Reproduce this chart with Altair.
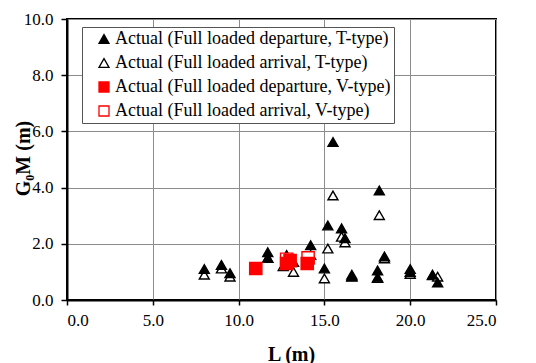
import altair as alt
import pandas as pd

series_names = [
    "Actual (Full loaded departure, T-type)",
    "Actual (Full loaded arrival, T-type)",
    "Actual (Full loaded departure, V-type)",
    "Actual (Full loaded arrival, V-type)",
]

dep_T_x = [8.0, 9.0, 9.5, 11.7, 11.7, 12.8, 13.2, 14.2, 15.0, 15.2, 15.5, 16.0, 16.2, 16.6, 16.6, 18.1, 18.1, 18.2, 18.5, 20.0, 20.0, 21.3, 21.6]
dep_T_y = [1.1, 1.25, 0.95, 1.7, 1.5, 1.6, 1.35, 1.95, 1.12, 2.65, 5.62, 2.55, 2.2, 0.9, 0.85, 1.05, 0.8, 3.9, 1.55, 1.1, 1.0, 0.9, 0.62]

arr_T_x = [8.0, 9.0, 9.5, 11.7, 12.6, 13.2, 14.2, 15.0, 15.2, 15.5, 16.0, 16.2, 16.6, 18.1, 18.2, 18.5, 20.0, 21.3, 21.6]
arr_T_y = [0.9, 1.12, 0.83, 1.5, 1.2, 1.0, 1.6, 0.77, 1.83, 3.72, 2.25, 2.05, 0.83, 0.78, 3.02, 1.48, 0.93, 0.88, 0.83]

dep_V_x = [11.0, 12.8, 13.0, 14.0]
dep_V_y = [1.12, 1.3, 1.4, 1.3]

arr_V_x = [12.8, 14.05]
arr_V_y = [1.45, 1.5]

rows = []
for xs, ys, name in [
    (arr_T_x, arr_T_y, series_names[1]),
    (dep_T_x, dep_T_y, series_names[0]),
    (arr_V_x, arr_V_y, series_names[3]),
    (dep_V_x, dep_V_y, series_names[2]),
]:
    for x, y in zip(xs, ys):
        rows.append({"L": x, "G": y, "series": name})
df = pd.DataFrame(rows)

FONT = "Liberation Serif"

legend = alt.Legend(
    title=None,
    orient="none",
    legendX=15,
    legendY=8,
    labelFont=FONT,
    labelFontSize=18,
    labelColor="black",
    labelLimit=500,
    symbolSize=100,
    symbolStrokeWidth=1.3,
    rowPadding=6,
    padding=3,
    symbolOffset=10,
    strokeColor="#555",
    fillColor="white",
    labelOffset=2,
)

chart = (
    alt.Chart(df)
    .mark_point(filled=False, strokeWidth=1.4, opacity=1)
    .encode(
        x=alt.X(
            "L:Q",
            scale=alt.Scale(domain=[0, 25], nice=False),
            axis=alt.Axis(
                title="L (m)",
                values=[0, 5, 10, 15, 20, 25],
                format=".1f",
                tickSize=5,
                labelPadding=7,
                labelFont=FONT,
                labelFontSize=17,
                titleFont=FONT,
                titleFontSize=20,
                titleX=224,
                titleY=60,
                titleBaseline="alphabetic",
            ),
        ),
        y=alt.Y(
            "G:Q",
            scale=alt.Scale(domain=[0, 10], nice=False),
            axis=alt.Axis(
                title="G₀M (m)",
                values=[0, 2, 4, 6, 8, 10],
                format=".1f",
                tickSize=6,
                labelPadding=8,
                labelFont=FONT,
                labelFontSize=17,
                titleFont=FONT,
                titleFontSize=20,
                titleX=-38,
                titleY=139,
                titleBaseline="alphabetic",
            ),
        ),
        shape=alt.Shape(
            "series:N",
            scale=alt.Scale(domain=series_names, range=["triangle-up", "triangle-up", "square", "square"]),
            legend=legend,
        ),
        fill=alt.Fill(
            "series:N",
            scale=alt.Scale(domain=series_names, range=["black", "white", "#ff0000", "white"]),
            legend=legend,
        ),
        stroke=alt.Stroke(
            "series:N",
            scale=alt.Scale(domain=series_names, range=["black", "black", "#ff0000", "#ff0000"]),
            legend=legend,
        ),
        size=alt.condition(
            "indexof(datum.series, 'V-type') >= 0", alt.value(150), alt.value(100)
        ),
    )
    .properties(
        width=429,
        height=281,
        autosize=alt.AutoSizeParams(type="none"),
        padding={"left": 59, "top": 11, "right": 20, "bottom": 63},
    )
    .configure_view(stroke="black", strokeWidth=2)
    .configure_axis(
        labelColor="black",
        titleFontWeight="bold",
        titleColor="black",
        gridColor="#8c8c8c",
        gridWidth=1,
        domainColor="black",
        domainWidth=2,
        tickColor="black",
        tickWidth=1.5,
    )
)

chart.save("out.html", embed_options={"renderer": "svg", "actions": False})
